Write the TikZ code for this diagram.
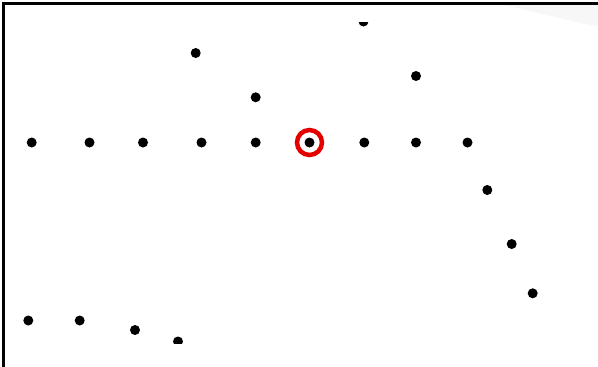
\documentclass[tikz,border=0pt]{standalone}
\begin{document}
\begin{tikzpicture}[x=1pt,y=-1pt,
  dotnode/.style={circle,fill=black,inner sep=0pt,minimum size=10pt},
  ringnode/.style={circle,draw=red!90!black,line width=4.5pt,inner sep=0pt,minimum size=25pt}]
\useasboundingbox (0,0) rectangle (598,367);
\fill[white] (0,0) rectangle (598,367);
% faint grey wedge at top right
\fill[black!3!white] (500,4) -- (598,4) -- (598,26) -- (585,24) -- cycle;
% frame
\draw[line width=3pt] (3.5,367) -- (3.5,3) -- (598,3);
\begin{scope}
\clip (5,22) rectangle (598,343);
\node[dotnode] (h1) at (31.7,142.5) {};
\node[dotnode] (h2) at (89.5,142.5) {};
\node[dotnode] (h3) at (143,142.5) {};
\node[dotnode] (h4) at (201.5,142.5) {};
\node[dotnode] (h5) at (255.7,142.5) {};
\node[dotnode] (c)  at (309.5,142.5) {};
\node[dotnode] (h7) at (364.3,142.5) {};
\node[dotnode] (h8) at (416,142.5) {};
\node[dotnode] (h9) at (467.5,142.5) {};
\node[dotnode] (u1) at (195.7,53) {};
\node[dotnode] (u2) at (255.7,97.3) {};
\node[dotnode] (u3) at (416,76) {};
\node[dotnode] (u4) at (363.5,21.5) {};
\node[dotnode] (r1) at (487.3,190) {};
\node[dotnode] (r2) at (511.7,244) {};
\node[dotnode] (r3) at (532.7,293.3) {};
\node[dotnode] (b1) at (28.3,320.5) {};
\node[dotnode] (b2) at (79.7,320.5) {};
\node[dotnode] (b3) at (135,330) {};
\node[dotnode] (b4) at (178,341.5) {};
\end{scope}
\node[ringnode] (ring) at (c) {};
\end{tikzpicture}
\end{document}
